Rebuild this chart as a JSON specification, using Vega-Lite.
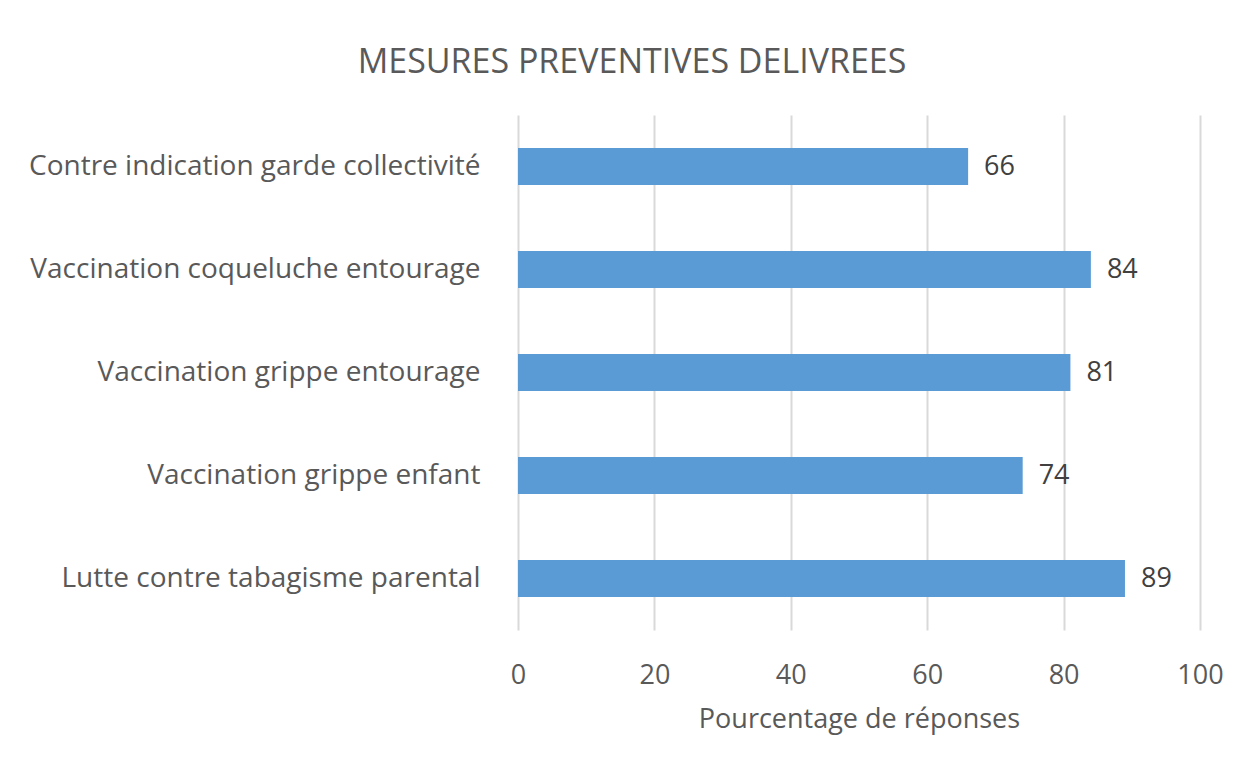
{
  "$schema": "https://vega.github.io/schema/vega-lite/v6.json",
  "autosize": "none",
  "width": 682,
  "height": 515,
  "padding": {"left": 518, "top": 115, "right": 44, "bottom": 130},
  "background": "white",
  "title": {
    "text": "MESURES PREVENTIVES DELIVREES",
    "font": "Open Sans",
    "fontSize": 34,
    "fontWeight": "normal",
    "color": "#595959",
    "anchor": "middle",
    "dx": -227,
    "offset": 35
  },
  "data": {
    "values": [
      {"mesure": "Contre indication garde collectivité", "pct": 66},
      {"mesure": "Vaccination coqueluche entourage", "pct": 84},
      {"mesure": "Vaccination grippe entourage", "pct": 81},
      {"mesure": "Vaccination grippe enfant", "pct": 74},
      {"mesure": "Lutte contre tabagisme parental", "pct": 89}
    ]
  },
  "encoding": {
    "y": {
      "field": "mesure",
      "type": "nominal",
      "sort": null,
      "scale": {"paddingInner": 0.64, "paddingOuter": 0.32},
      "axis": {
        "title": null,
        "domain": false,
        "ticks": false,
        "labelFont": "Open Sans",
        "labelFontSize": 28,
        "labelColor": "#595959",
        "labelPadding": 38,
        "labelLimit": 600
      }
    },
    "x": {
      "field": "pct",
      "type": "quantitative",
      "scale": {"domain": [0, 100]},
      "axis": {
        "values": [0, 20, 40, 60, 80, 100],
        "labelFlush": false,
        "title": "Pourcentage de réponses",
        "titleFont": "Open Sans",
        "titleFontSize": 27,
        "titleFontWeight": "normal",
        "titleColor": "#595959",
        "titlePadding": 18,
        "domain": false,
        "ticks": false,
        "labelFont": "Open Sans",
        "labelFontSize": 27,
        "labelColor": "#595959",
        "labelPadding": 32,
        "grid": true,
        "gridColor": "#d9d9d9",
        "gridWidth": 2
      }
    }
  },
  "layer": [
    {"mark": {"type": "bar", "color": "#5b9bd5"}},
    {
      "mark": {"type": "text", "align": "left", "dx": 16, "font": "Open Sans", "fontSize": 27, "color": "#404040"},
      "encoding": {"text": {"field": "pct", "type": "quantitative"}}
    }
  ],
  "config": {"view": {"stroke": null}}
}
